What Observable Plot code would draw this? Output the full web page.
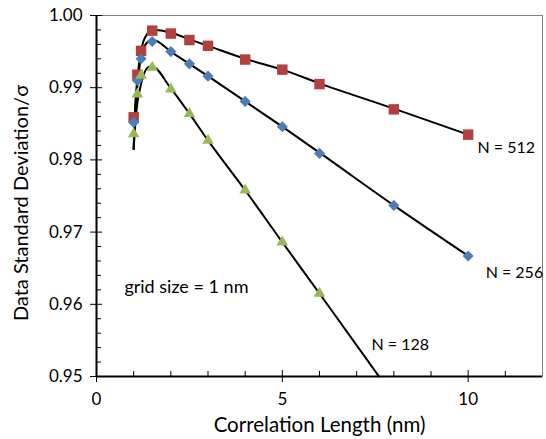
<!DOCTYPE html>
<html><head><meta charset="utf-8">
<script src="https://cdn.jsdelivr.net/npm/d3@7"></script>
<script src="https://cdn.jsdelivr.net/npm/@observablehq/plot@0.6"></script>
<style>body{margin:0;background:#fff;} #chart svg{display:block;}</style>
</head><body><div id="chart"></div>
<script>
// Measured points
const xsLong = [1, 1.1, 1.2, 1.5, 2, 2.5, 3, 4, 5, 6, 8, 10];
const n512 = [0.9859, 0.9918, 0.9951, 0.9979, 0.9975, 0.9966, 0.9958, 0.9939, 0.9925, 0.9905, 0.9870, 0.9835];
const n256 = [0.9852, 0.9910, 0.9940, 0.9964, 0.9950, 0.9933, 0.9916, 0.9881, 0.9846, 0.9809, 0.9737, 0.9667];
const xsShort = [1, 1.1, 1.2, 1.5, 2, 2.5, 3, 4, 5, 6];
const n128 = [0.9836, 0.9891, 0.9917, 0.9928, 0.9898, 0.9864, 0.9827, 0.9758, 0.9686, 0.9615];

// Fitted curves
const fit512x = [1.0, 1.035, 1.075, 1.13, 1.18, 1.26, 1.37, 1.48, 1.6, 2, 2.5, 3, 4, 5, 6, 8, 10];
const fit512y = [0.9815, 0.9868, 0.9899, 0.9927, 0.9946, 0.9964, 0.9975, 0.9980, 0.9980, 0.9976, 0.9967, 0.9958, 0.9940, 0.9925, 0.9906, 0.9871, 0.9835];
const fit256x = [1.0, 1.035, 1.075, 1.13, 1.18, 1.26, 1.37, 1.48, 1.6, 2, 2.5, 3, 4, 5, 6, 8, 10];
const fit256y = [0.9815, 0.9861, 0.9889, 0.9917, 0.9938, 0.9954, 0.9963, 0.9966, 0.9965, 0.9950, 0.9933, 0.9916, 0.9881, 0.9846, 0.9810, 0.9737, 0.9667];
const fit128x = [1.0, 1.05, 1.1, 1.16, 1.24, 1.32, 1.43, 1.5, 2, 2.5, 3, 4, 5, 6, 7.6];
const fit128y = [0.9815, 0.9854, 0.9879, 0.9896, 0.9913, 0.9924, 0.9929, 0.9929, 0.9899, 0.9864, 0.9827, 0.9758, 0.9686, 0.9615, 0.95];

// Axis ticks
const xMajor = [0, 5, 10];
const xMinor = [1, 2, 3, 4, 6, 7, 8, 9, 11];
const yMajor = [0.95, 0.96, 0.97, 0.98, 0.99, 1.00];
const yMinor = [0.952,0.954,0.956,0.958,0.962,0.964,0.966,0.968,0.972,0.974,0.976,0.978,0.982,0.984,0.986,0.988,0.992,0.994,0.996,0.998];

// Annotations
const noteText = ["N = 512", "N = 256", "N = 128", "grid size = 1 nm"];
const noteX = [10.25, 10.47, 7.40, 0.75];
const noteY = [0.9816, 0.9644, 0.9544, 0.9623];

const W = 546, H = 439;
const mL = 96, mR = 4, mT = 15, mB = 63;
const pw = W - mL - mR, ph = H - mT - mB;

const toRows = (xs, ys) => xs.map((x, i) => ({x, y: ys[i]}));
const pts512 = toRows(xsLong, n512);
const pts256 = toRows(xsLong, n256);
const pts128 = toRows(xsShort, n128);
const notes = noteText.map((t, i) => ({t, x: noteX[i], y: noteY[i]}));

const chart = Plot.plot({
  width: W, height: H,
  marginLeft: mL, marginRight: mR, marginTop: mT, marginBottom: mB,
  style: {fontFamily: "Lato, sans-serif", fontSize: "17px", color: "#000", background: "#fff"},
  x: {domain: [0, 12]},
  y: {domain: [0.95, 1.0]},
  marks: [
    Plot.frame({stroke: "#808080", strokeWidth: 1}),
    Plot.tickY(yMinor, {y: d => d, stroke: "#000", strokeWidth: 1, insetRight: pw - 5}),
    Plot.tickY(yMajor, {y: d => d, stroke: "#000", strokeWidth: 1, insetRight: pw - 6}),
    Plot.tickX(xMinor, {x: d => d, stroke: "#000", strokeWidth: 1, insetTop: ph - 5}),
    Plot.tickX(xMajor, {x: d => d, stroke: "#000", strokeWidth: 1, insetTop: ph - 6}),
    Plot.axisY({ticks: yMajor, tickFormat: d3.format(".2f"), tickSize: 6, tickPadding: 8, label: null, stroke: "#000"}),
    Plot.axisX({ticks: xMajor, tickFormat: d3.format("d"), tickSize: 6, tickPadding: 10, label: null, stroke: "#000"}),
    Plot.ruleX([0], {stroke: "#000", strokeWidth: 2}),
    Plot.ruleY([0.95], {stroke: "#000", strokeWidth: 2}),
    Plot.line(toRows(fit512x, fit512y), {x: "x", y: "y", stroke: "#000", strokeWidth: 2, curve: "monotone-x"}),
    Plot.line(toRows(fit256x, fit256y), {x: "x", y: "y", stroke: "#000", strokeWidth: 2, curve: "monotone-x"}),
    Plot.line(toRows(fit128x, fit128y), {x: "x", y: "y", stroke: "#000", strokeWidth: 2, curve: "monotone-x"}),
    Plot.dot(pts512, {x: "x", y: "y", symbol: "square", r: 5.9, fill: "#B3403D", stroke: "none"}),
    Plot.dot(pts256, {x: "x", y: "y", symbol: "diamond2", r: 5, fill: "#4A7EBB", stroke: "none"}),
    Plot.dot(pts128, {x: "x", y: "y", symbol: "triangle", r: 4.3, fill: "#98B954", stroke: "none"}),
    Plot.text(notes, {x: "x", y: "y", text: "t", textAnchor: "start", fontSize: d => d.t.startsWith("grid") ? 18 : 16, fill: "#000"}),
    Plot.text(["Correlation Length (nm)"], {text: d => d, frameAnchor: "bottom", textAnchor: "middle", lineAnchor: "middle", dy: 49, fontSize: 20.5, fill: "#000"}),
    Plot.text(["Data Standard Deviation/σ"], {text: d => d, frameAnchor: "left", textAnchor: "middle", lineAnchor: "middle", rotate: -90, dx: -75, dy: 7, fontSize: 20, fill: "#000"})
  ]
});
document.getElementById("chart").appendChild(chart);
</script>
</body></html>
